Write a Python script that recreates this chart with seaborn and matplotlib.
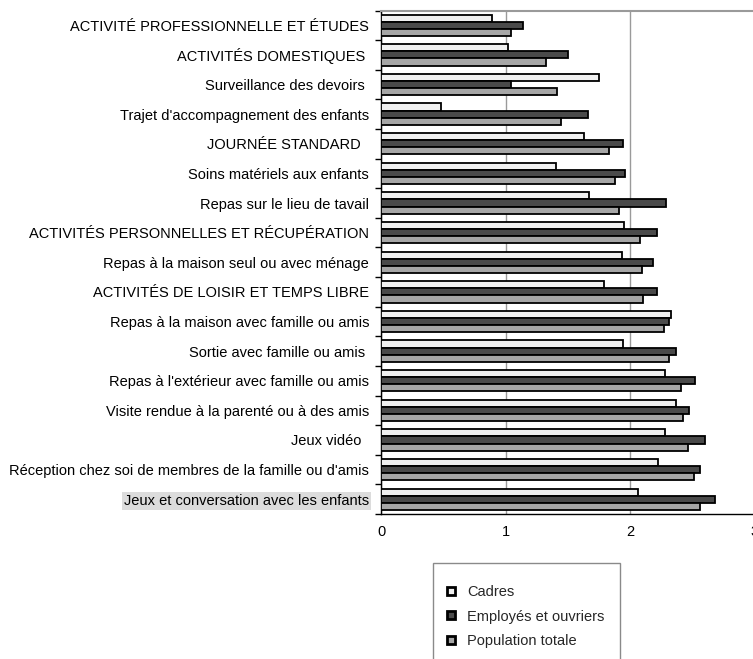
import matplotlib
matplotlib.use("Agg")
import matplotlib.pyplot as plt
from matplotlib.lines import Line2D
from matplotlib.patches import Rectangle
import seaborn as sns
import pandas as pd
import numpy as np

categories = [
    "ACTIVITÉ PROFESSIONNELLE ET ÉTUDES",
    "ACTIVITÉS DOMESTIQUES ",
    "Surveillance des devoirs ",
    "Trajet d'accompagnement des enfants",
    "JOURNÉE STANDARD  ",
    "Soins matériels aux enfants",
    "Repas sur le lieu de tavail",
    "ACTIVITÉS PERSONNELLES ET RÉCUPÉRATION",
    "Repas à la maison seul ou avec ménage",
    "ACTIVITÉS DE LOISIR ET TEMPS LIBRE",
    "Repas à la maison avec famille ou amis",
    "Sortie avec famille ou amis ",
    "Repas à l'extérieur avec famille ou amis",
    "Visite rendue à la parenté ou à des amis",
    "Jeux vidéo  ",
    "Réception chez soi de membres de la famille ou d'amis",
    "Jeux et conversation avec les enfants",
]
cadres = [0.89, 1.02, 1.75, 0.48, 1.63, 1.40, 1.67, 1.95, 1.93, 1.79, 2.33, 1.94, 2.28, 2.37, 2.28, 2.22, 2.06]
employes = [1.14, 1.50, 1.04, 1.66, 1.94, 1.96, 2.29, 2.21, 2.18, 2.21, 2.31, 2.37, 2.52, 2.47, 2.60, 2.56, 2.68]
population = [1.04, 1.32, 1.41, 1.44, 1.83, 1.88, 1.91, 2.08, 2.09, 2.10, 2.27, 2.31, 2.41, 2.42, 2.46, 2.51, 2.56]
series_names = ["Cadres", "Employés et ouvriers", "Population totale"]
x_ticks = [0, 1, 2, 3]

colors = ["#f0f0f0", "#4a4a4a", "#a6a6a6"]

df = pd.DataFrame({
    "cat": categories * 3,
    "val": cadres + employes + population,
    "serie": [series_names[0]] * len(categories) + [series_names[1]] * len(categories) + [series_names[2]] * len(categories),
})

sns.set_theme(style="white")
plt.rcParams["font.family"] = ["Liberation Sans", "DejaVu Sans"]
FS = 10.5

fig = plt.figure(figsize=(7.53, 6.59), dpi=100)
W, H = 753, 659
ax_left, ax_right, ax_top, ax_bottom = 381, 755, 10.5, 514
ax = fig.add_axes([ax_left / W, 1 - ax_bottom / H, (ax_right - ax_left) / W, (ax_bottom - ax_top) / H])

sns.barplot(data=df, y="cat", x="val", hue="serie", hue_order=series_names,
            order=categories, palette=colors, orient="h", width=0.72,
            edgecolor="black", linewidth=1.3, ax=ax, legend=False, zorder=3)

ax.set_xlim(0, 3)
ax.set_ylim(len(categories) - 0.5, -0.5)
ax.set_xticks(x_ticks)
ax.set_xticklabels([str(t) for t in x_ticks])
ax.set_xlabel("")
ax.set_ylabel("")
ax.xaxis.grid(True, color="#9a9a9a", linewidth=1.0, zorder=0)
ax.yaxis.grid(False)
ax.set_axisbelow(True)

for s in ["left", "bottom"]:
    ax.spines[s].set_color("black")
    ax.spines[s].set_linewidth(1.0)
ax.spines["top"].set_color("#9a9a9a")
ax.spines["top"].set_linewidth(1.5)
ax.spines["right"].set_visible(False)

ax.tick_params(axis="x", length=0, pad=8, labelsize=FS, colors="black")
ax.tick_params(axis="y", which="major", length=0, pad=8.5, labelsize=FS, colors="black")
ax.set_yticks(np.arange(-0.5, len(categories), 1.0), minor=True)
ax.tick_params(axis="y", which="minor", length=4, width=1.0, color="black", left=True)

labels = ax.get_yticklabels()
labels[-1].set_bbox(dict(facecolor="#dcdcdc", edgecolor="none", pad=1.5))

# legend frame (extends past the bottom edge as in the reference)
fig.patches.append(Rectangle((432.7 / W, 1 - 680 / H), (620 - 432.7) / W, (680 - 562.7) / H,
                             transform=fig.transFigure, fill=False,
                             edgecolor="#8a8a8a", linewidth=1.0))

handles = [Line2D([0], [0], marker="s", linestyle="none", markersize=6,
                  markerfacecolor=c, markeredgecolor="black", markeredgewidth=2.0)
           for c in colors]
leg = fig.legend(handles, series_names, loc="upper left",
                 bbox_to_anchor=(445 / W, 1 - 585 / H), frameon=False,
                 fontsize=FS, handlelength=0.8, handletextpad=0.7,
                 labelspacing=0.72, borderpad=0, borderaxespad=0)

fig.savefig("out.png", dpi=100)
